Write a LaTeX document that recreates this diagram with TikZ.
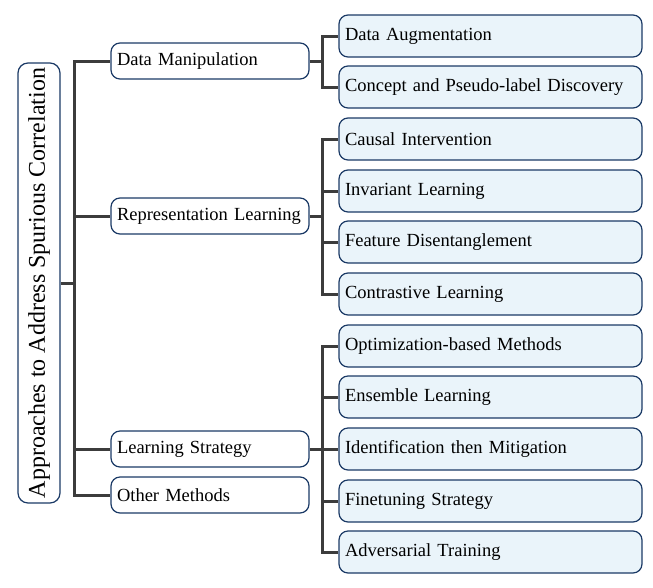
\documentclass[tikz,border=0pt]{standalone}
\usepackage{fontspec}
\setmainfont{Liberation Serif}
\definecolor{boxline}{HTML}{1B3A66}
\definecolor{boxfill}{HTML}{EAF4FA}
\definecolor{linkgray}{HTML}{3C3C3C}
\begin{document}
\begin{tikzpicture}[x=1pt,y=-1pt,
  rootbox/.style={draw=boxline,line width=1.2pt,fill=white,rounded corners=10pt,
    rotate=90,minimum width=440pt,minimum height=42pt,inner sep=0pt,
    font=\fontsize{24}{28}\selectfont},
  midbox/.style={draw=boxline,line width=1.2pt,fill=white,rounded corners=9pt,
    text width=186pt,align=left,inner xsep=6pt,minimum height=36pt,
    font=\fontsize{18.5}{22}\selectfont},
  leafbox/.style={draw=boxline,line width=1.2pt,fill=boxfill,rounded corners=9pt,
    text width=291pt,align=left,inner xsep=6pt,minimum height=42pt,
    font=\fontsize{18.5}{22}\selectfont},
  link/.style={draw=linkgray,line width=3pt}]

\useasboundingbox (0,0) rectangle (653,587);

% Root of the tree
\node[rootbox] (root) at (39,283) {Approaches to Address Spurious Correlation};

% First level
\node[midbox] (dm) at (210,61)  {Data Manipulation};
\node[midbox] (rl) at (210,216) {Representation Learning};
\node[midbox] (ls) at (210,449) {Learning Strategy};
\node[midbox] (om) at (210,495) {Other Methods};

% Second level
\node[leafbox] (da)  at (490.5,36)  {Data Augmentation};
\node[leafbox] (cp)  at (490.5,87)  {Concept and Pseudo-label Discovery};
\node[leafbox] (ci)  at (490.5,139) {Causal Intervention};
\node[leafbox] (il)  at (490.5,191) {Invariant Learning};
\node[leafbox] (fd)  at (490.5,242) {Feature Disentanglement};
\node[leafbox] (cl)  at (490.5,294) {Contrastive Learning};
\node[leafbox] (ob)  at (490.5,346) {Optimization-based Methods};
\node[leafbox] (el)  at (490.5,397) {Ensemble Learning};
\node[leafbox] (itm) at (490.5,449) {Identification then Mitigation};
\node[leafbox] (fs)  at (490.5,501) {Finetuning Strategy};
\node[leafbox] (at)  at (490.5,552) {Adversarial Training};

% Connectors from the root
\coordinate (trunk) at (74,283);
\draw[link] (root.south) -- (trunk);
\foreach \n in {dm,rl,ls,om}
  \draw[link] (trunk) |- (\n.west);

% Connectors to the leaves
\coordinate (dmj) at (322,61);
\coordinate (rlj) at (322,216);
\coordinate (lsj) at (322,449);
\draw[link] (dm.east) -- (dmj);
\draw[link] (rl.east) -- (rlj);
\draw[link] (ls.east) -- (lsj);
\foreach \n in {da,cp}
  \draw[link] (dmj) |- (\n.west);
\foreach \n in {ci,il,fd,cl}
  \draw[link] (rlj) |- (\n.west);
\foreach \n in {ob,el,itm,fs,at}
  \draw[link] (lsj) |- (\n.west);

\end{tikzpicture}
\end{document}
